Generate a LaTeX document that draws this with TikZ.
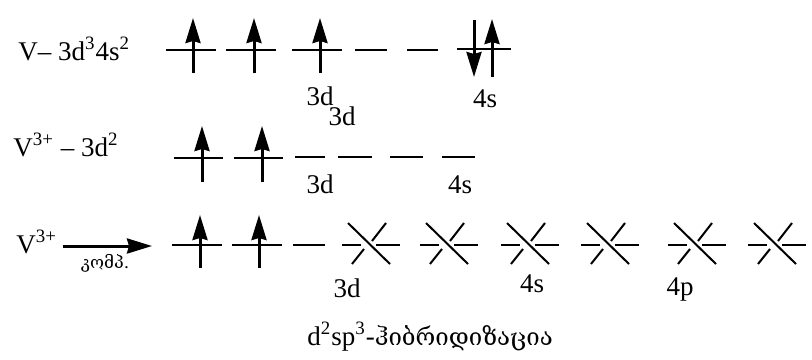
\documentclass[tikz,border=0pt]{standalone}
\usepackage{fontspec}
\setmainfont{Liberation Serif}
\newfontfamily\geofont[Script=Georgian]{DejaVu Serif}
\usetikzlibrary{arrows.meta}

\begin{document}
\begin{tikzpicture}[
  x=0.5pt, y=-0.5pt,
  font=\fontsize{13.5}{16}\selectfont,
  orb/.style={draw, line width=1pt},
  spin/.style={draw, line width=1.5pt, -{Stealth[length=12.5pt, width=7.5pt, inset=1pt]}},
  lbl/.style={anchor=base, inner sep=0pt},
  hyb/.pic={
    \draw[orb] (-27,0) -- (-8,0) (7,0) -- (31,0);
    \draw[orb] (17,-22) -- (3,-4) (-5,4) -- (-17,19);
    \draw[orb] (-21,-22) -- (21,19);
  }
  ]
  \useasboundingbox (0,0) rectangle (812,359);

  % V ground state
  \node[anchor=base west, inner sep=0pt] (V) at (18,60) {V– 3d\textsuperscript{3}4s\textsuperscript{2}};
  \draw[orb] (166,50) -- (216,50);
  \draw[spin] (193,73) -- (193,18);
  \draw[orb] (226,50) -- (276,50);
  \draw[spin] (254,73) -- (254,18);
  \draw[orb] (292,50) -- (342,50);
  \draw[spin] (320,73) -- (320,18);
  \draw[orb] (355,50) -- (387,50);
  \draw[orb] (407,50) -- (438,50);
  \draw[orb] (457,49) -- (511,49);
  \draw[spin] (474,20) -- (474,77);
  \draw[spin] (492,77) -- (492,19);
  \node[lbl] (d1) at (320,105) {3d};
  \node[lbl] (d1b) at (342,125) {3d};
  \node[lbl] (s1) at (485,107) {4s};

  % V3+ ion
  \node[anchor=base west, inner sep=0pt] (V3) at (13,156) {V\textsuperscript{3+} – 3d\textsuperscript{2}};
  \draw[orb] (174,158) -- (223,158);
  \draw[spin] (202,182) -- (202,126);
  \draw[orb] (234,158) -- (283,158);
  \draw[spin] (262,182) -- (262,126);
  \draw[orb] (295,157) -- (325,157);
  \draw[orb] (338,157) -- (372,157);
  \draw[orb] (390,157) -- (423,157);
  \draw[orb] (442,157) -- (475,157);
  \node[lbl] (d2) at (320,193) {3d};
  \node[lbl] (s2) at (460,193) {4s};

  % V3+ in complex
  \node[anchor=base west, inner sep=0pt] (V3c) at (16,253) {V\textsuperscript{3+}};
  \coordinate (r1) at (63,246);
  \coordinate (r2) at (152,246);
  \draw[spin] (r1) -- (r2);
  \node[lbl, font=\geofont\fontsize{8.5}{10}\selectfont] (komp) at (105,268) {კომპ.};
  \draw[orb] (172,245) -- (222,245);
  \draw[spin] (200,268) -- (200,215);
  \draw[orb] (232,245) -- (282,245);
  \draw[spin] (259,268) -- (259,215);
  \draw[orb] (293,245) -- (325,245);
  \pic at (369,245) {hyb};
  \pic at (447,245) {hyb};
  \pic at (528,245) {hyb};
  \pic at (608,245) {hyb};
  \pic at (695,245) {hyb};
  \pic at (775,245) {hyb};
  \node[lbl] (d3) at (347,297) {3d};
  \node[lbl] (s3) at (532,292) {4s};
  \node[lbl] (p3) at (680,295) {4p};

  \node[anchor=base west, inner sep=0pt] (hyb) at (307,345) {d\textsuperscript{2}sp\textsuperscript{3}-{\geofont\fontsize{12}{14}\selectfont ჰიბრიდიზაცია}};
\end{tikzpicture}
\end{document}
